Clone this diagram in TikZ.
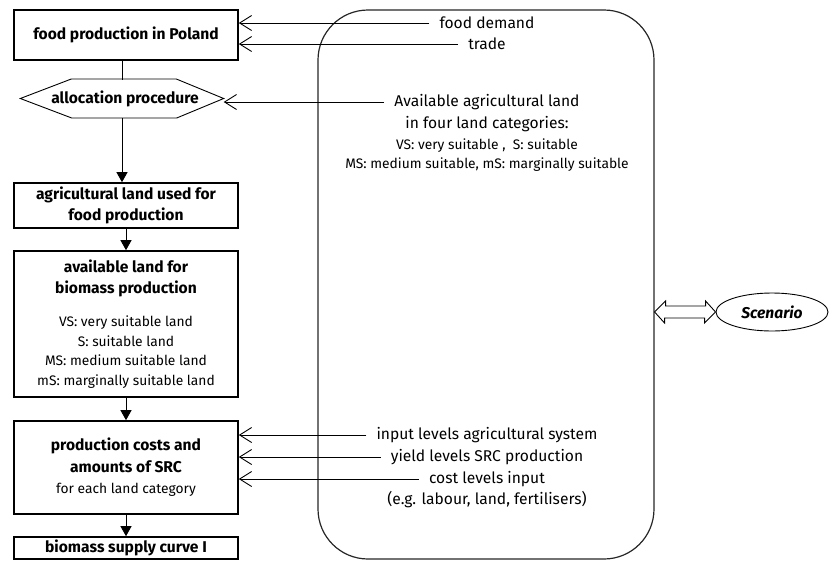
\documentclass[tikz,border=0pt]{standalone}
\usepackage{fontspec}
\setmainfont{Fira Sans}
\usetikzlibrary{arrows.meta,shapes.geometric}

\newcommand{\bigtxt}{\fontsize{15.6}{21}\selectfont}
\newcommand{\smalltxt}{\fontsize{13.8}{19.5}\selectfont}
\newcommand{\lighttxt}{\mdseries\smalltxt}

\tikzset{
  stagebox/.style={draw, line width=1.6pt, minimum width=224pt, align=center, inner sep=0pt,
    font=\bfseries\bigtxt},
  inlbl/.style={inner xsep=10pt, inner ysep=0pt, font=\bigtxt},
  feed/.style={line width=0.9pt, -{Straight Barb[length=12pt,width=15pt,line width=0.9pt]}},
  down/.style={line width=0.9pt, -{Triangle[length=10pt,width=11pt]}},
}

\begin{document}
\begin{tikzpicture}[x=1pt,y=-1pt]
  \useasboundingbox (0,0) rectangle (830,560);
  % scenario frame
  \node[draw=black!85, line width=1.2pt, rounded corners=50pt,
    minimum width=336pt, minimum height=549pt] (frame) at (486,284.5) {};

  % model chain
  \node[stagebox, minimum height=50pt] (food) at (126,35) {food production in Poland};
  \node[minimum width=203pt, minimum height=39pt, inner sep=0pt, font=\bfseries\bigtxt]
    (alloc) at (122,98.5) {\hspace*{6pt}allocation procedure};
  \draw[line width=0.9pt] (alloc.west) -- ++(51,-19.5) -- ++(105,0) -- (alloc.east)
    -- ++(-47,19.5) -- ++(-105,0) -- cycle;
  \node[stagebox, minimum height=45pt] (agri) at (126,205.5)
    {agricultural land used for\\food production};
  \node[stagebox, minimum height=146pt] (avail) at (126,324)
    {available land for\\biomass production\\[12pt]
     \lighttxt VS: very suitable land\\[-1.5pt]\lighttxt S: suitable land\\[-1.5pt]
     \lighttxt MS: medium suitable land\\[-1.5pt]\lighttxt mS: marginally suitable land};
  \node[stagebox, minimum height=93pt] (cost) at (126,467.5)
    {production costs and\\[1pt]amounts of SRC\\\lighttxt for each land category};
  \node[stagebox, minimum height=22pt] (supply) at (126,548) {biomass supply curve I};

  \draw[line width=0.9pt] (food.south -| alloc) -- ++(0,19);
  \draw[down] (alloc.south) -- (alloc.south |- agri.north);
  \draw[down] (agri) -- (avail);
  \draw[down] (avail) -- (cost);
  \draw[down] (cost) -- (supply);

  % inputs
  \node[inlbl] (demand) at (487,23) {food demand};
  \node[inlbl] (trade) at (487,44) {trade};
  \node[inlbl] (land) at (487,102) {Available agricultural land};
  \node[inlbl] (cat) at (487,124) {in four land categories:};
  \node[inlbl, font=\smalltxt] (cat2) at (487,146) {VS: very suitable ,\ \ S: suitable};
  \node[inlbl, font=\smalltxt] (cat3) at (487,165) {MS: medium suitable, mS: marginally suitable};
  \node[inlbl] (level) at (487,435) {input levels agricultural system};
  \node[inlbl] (yield) at (487,457) {yield levels SRC production};
  \node[inlbl] (price) at (487,479) {cost levels input};
  \node[inlbl] (eg) at (487,500) {(e.g. labour, land, fertilisers)};

  \draw[feed] (demand.west) -- (demand.west -| food.east);
  \draw[feed] (trade.west) -- (trade.west -| food.east);
  \draw[feed] (land.west) -- (land.west -| alloc.east);
  \draw[feed] (level.west) -- (level.west -| cost.east);
  \draw[feed] (yield.west) -- (yield.west -| cost.east);
  \draw[feed] (price.west) -- (price.west -| cost.east);

  % scenario
  \node[ellipse, draw, line width=0.9pt, minimum width=112pt, minimum height=38pt,
    inner sep=0pt, font=\bfseries\itshape\bigtxt] (scen) at (772,312) {Scenario};
  \draw[line width=0.9pt, fill=white] (frame.east |- scen) -- ++(11,-11) -- ++(0,5)
    -- ++(40,0) -- ++(0,-5) -- (scen.west) -- ++(-11,11) -- ++(0,-5)
    -- ++(-40,0) -- ++(0,5) -- cycle;
\end{tikzpicture}
\end{document}
